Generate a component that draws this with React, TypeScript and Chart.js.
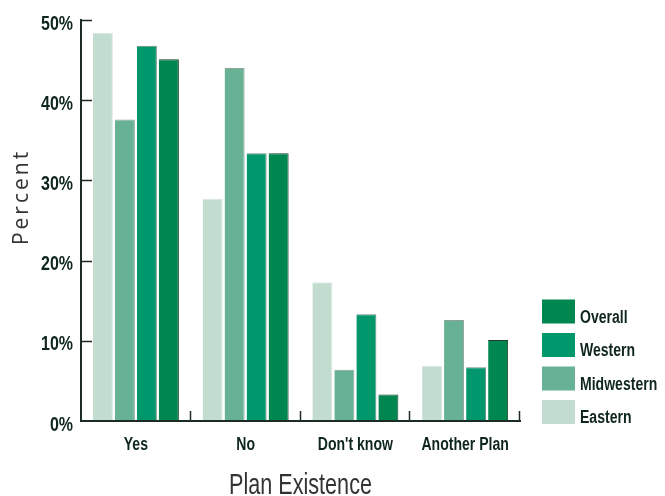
import { useEffect, useRef } from "react";
import { Chart, registerables } from "chart.js";

Chart.register(...registerables);

// Share of respondents by plan status, per region
const categories = ["Yes", "No", "Don't know", "Another Plan"];
const seriesNames = ["Eastern", "Midwestern", "Western", "Overall"];
const eastern = [48.4, 27.7, 17.3, 6.9];
const midwestern = [37.6, 44.0, 6.4, 12.6];
const western = [46.8, 33.4, 13.3, 6.7];
const overall = [45.1, 33.4, 3.3, 10.1];
const yTickValues = [0, 10, 20, 30, 40, 50];
const xTitle = "Plan Existence";
const yTitle = "Percent";

const seriesFill = ["#c2dcd0", "#67b294", "#00976c", "#00874f"];
const seriesEdge = ["#dce8e2", "#8fa397", "#6f8c7e", "#1f3d2e"];

const SANS = "'Liberation Sans', Arial, sans-serif";
const INK = "#0e261b";
const AXIS = "#1c2b23";

// Draws text squeezed horizontally to get a condensed face
function narrowText(
  ctx: CanvasRenderingContext2D,
  text: string,
  x: number,
  y: number,
  align: CanvasTextAlign,
  baseline: CanvasTextBaseline,
  font: string,
  squeeze: number
) {
  ctx.save();
  ctx.translate(x, y);
  ctx.scale(squeeze, 1);
  ctx.font = font;
  ctx.textAlign = align;
  ctx.textBaseline = baseline;
  ctx.fillText(text, 0, 0);
  ctx.restore();
}

// Short tick marks pointing into the plot area, plus condensed tick labels
const axisDecor = {
  id: "axisDecor",
  afterDatasetsDraw(chart: any) {
    const { ctx, chartArea, scales } = chart;
    const x = scales.x;
    const y = scales.y;
    ctx.save();
    ctx.strokeStyle = AXIS;
    ctx.lineWidth = 1.5;
    ctx.beginPath();
    yTickValues.forEach((v) => {
      if (v === 0) return;
      const py = Math.round(y.getPixelForValue(v)) + 0.5;
      ctx.moveTo(chartArea.left, py);
      ctx.lineTo(chartArea.left + 11, py);
    });
    for (let i = 0; i < categories.length; i++) {
      const px =
        i < categories.length - 1
          ? (x.getPixelForValue(i) + x.getPixelForValue(i + 1)) / 2
          : chartArea.right;
      const rx = Math.round(px) - 0.5;
      ctx.moveTo(rx, chartArea.bottom);
      ctx.lineTo(rx, chartArea.bottom - 10);
    }
    ctx.stroke();

    ctx.fillStyle = INK;
    yTickValues.forEach((v) => {
      narrowText(
        ctx,
        `${v}%`,
        chartArea.left - 8,
        y.getPixelForValue(v) + 4,
        "right",
        "middle",
        `bold 20px ${SANS}`,
        0.8
      );
    });
    categories.forEach((c, i) => {
      narrowText(
        ctx,
        c,
        x.getPixelForValue(i),
        chartArea.bottom + 29,
        "center",
        "alphabetic",
        `bold 18px ${SANS}`,
        0.78
      );
    });
    ctx.restore();
  },
};

// Axis titles
const axisTitles = {
  id: "axisTitles",
  afterDraw(chart: any) {
    const { ctx, chartArea } = chart;
    ctx.save();
    ctx.fillStyle = "#333333";
    narrowText(
      ctx,
      xTitle,
      (chartArea.left + chartArea.right) / 2,
      494,
      "center",
      "alphabetic",
      `30px ${SANS}`,
      0.72
    );

    ctx.translate(28, 197);
    ctx.rotate(-Math.PI / 2);
    ctx.font = "21px 'Open Sans', sans-serif";
    ctx.textAlign = "center";
    ctx.textBaseline = "alphabetic";
    (ctx as any).letterSpacing = "3px";
    ctx.fillText(yTitle, 0, 0);
    ctx.restore();
  },
};

// Legend stacked in reverse order, bottom-aligned with the plot
const sideLegend = {
  id: "sideLegend",
  afterDraw(chart: any) {
    const { ctx, chartArea } = chart;
    const ds = chart.data.datasets;
    const left = chartArea.right + 22;
    const pitch = 33.5;
    const boxW = 33;
    const boxH = 24;
    const firstTop = chartArea.bottom + 3 - boxH - pitch * (ds.length - 1);
    ctx.save();
    for (let k = 0; k < ds.length; k++) {
      const d = ds[ds.length - 1 - k];
      const top = firstTop + k * pitch;
      ctx.fillStyle = d.backgroundColor;
      ctx.fillRect(left, top, boxW, boxH);
      ctx.fillStyle = INK;
      narrowText(
        ctx,
        d.label,
        left + boxW + 5,
        top + boxH - 1,
        "left",
        "alphabetic",
        `bold 18px ${SANS}`,
        0.78
      );
    }
    ctx.restore();
  },
};

export default function App() {
  const canvasRef = useRef<HTMLCanvasElement | null>(null);

  useEffect(() => {
    const canvas = canvasRef.current;
    if (!canvas) return;
    const values = [eastern, midwestern, western, overall];
    const chart = new Chart(canvas, {
      type: "bar",
      data: {
        labels: categories,
        datasets: seriesNames.map((name, i) => ({
          label: name,
          data: values[i],
          backgroundColor: seriesFill[i],
          borderColor: seriesEdge[i],
          borderWidth: { top: 1, right: 1, left: 0, bottom: 0 },
          borderSkipped: "bottom",
          categoryPercentage: 0.802,
          barPercentage: 0.909,
        })),
      },
      options: {
        animation: false,
        responsive: true,
        maintainAspectRatio: false,
        layout: { padding: { top: 20, right: 145, left: 0, bottom: 0 } },
        plugins: {
          legend: { display: false },
          tooltip: { enabled: false },
        },
        scales: {
          x: {
            grid: { display: false, drawTicks: false },
            border: { display: true, color: AXIS, width: 2, z: 1 },
            ticks: { display: false },
            afterFit(scale: any) {
              scale.height = 75;
            },
          },
          y: {
            min: 0,
            max: 50,
            grid: { display: false, drawTicks: false },
            border: { display: true, color: AXIS, width: 2, z: 1 },
            ticks: { display: false, stepSize: 10 },
            afterFit(scale: any) {
              scale.width = 81;
            },
          },
        },
      },
      plugins: [axisDecor, axisTitles, sideLegend],
    });
    return () => chart.destroy();
  }, []);

  return (
    <div
      style={{
        position: "absolute",
        left: 0,
        top: 0,
        width: 665,
        height: 496,
        background: "#ffffff",
      }}
    >
      <canvas ref={canvasRef} />
    </div>
  );
}
